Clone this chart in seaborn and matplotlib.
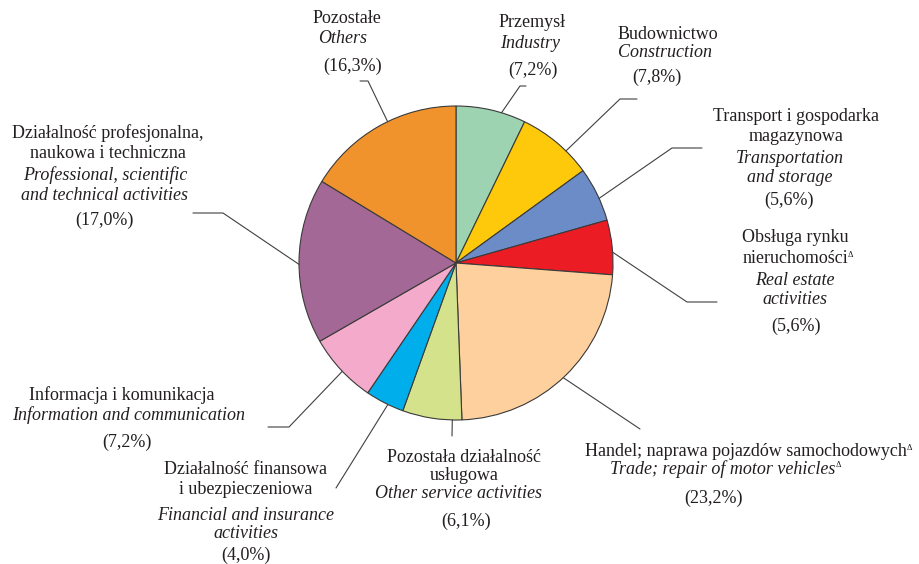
import numpy as np
import matplotlib.pyplot as plt
import seaborn as sns

sns.set_theme(style="white")
plt.rcParams['font.family'] = ['Liberation Serif', 'DejaVu Serif']

# data: shares of sections (clockwise from the top)
shares = [7.2, 7.8, 5.6, 5.6, 23.2, 6.1, 4.0, 7.2, 17.0, 16.3]
names_pl = [["Przemysł"],
            ["Budownictwo"],
            ["Transport i gospodarka", "magazynowa"],
            ["Obsługa rynku", "nieruchomościΔ"],
            ["Handel; naprawa pojazdów samochodowychΔ"],
            ["Pozostała działalność", "usługowa"],
            ["Działalność finansowa", "i ubezpieczeniowa"],
            ["Informacja i komunikacja"],
            ["Działalność profesjonalna,", "naukowa i techniczna"],
            ["Pozostałe"]]
names_en = [["Industry"],
            ["Construction"],
            ["Transportation", "and storage"],
            ["Real estate", "activities"],
            ["Trade; repair of motor vehiclesΔ"],
            ["Other service activities"],
            ["Financial and insurance", "activities"],
            ["Information and communication"],
            ["Professional, scientific", "and technical activities"],
            ["Others"]]
colors = ['#9dd3b0', '#fdc90a', '#6b8cc6', '#ec1c24', '#fdd09d',
          '#d3e28b', '#00aeeb', '#f4aacb', '#a36896', '#f1932c']

# layout (pixel coordinates, y from the top)
H = 564
cx, cy, R = 456, 263, 157
# x of polish / english / pct, y of each line
text_x = [(532, 530, 533), (668, 665, 657), (796, 790, 789), (795, 795, 796),
          (746, 723, 714), (464, 459, 466), (246, 246, 246), (122, 129, 127),
          (108, 105, 104), (347, 343, 353)]
text_y = [[22, 43, 70], [34, 52, 77], [116, 136, 158, 177, 200],
          [237, 258, 280, 299, 326], [451, 469, 498], [457, 476, 494, 521],
          [470, 490, 515, 534, 555], [395, 415, 442],
          [133, 153, 175, 195, 220], [18, 38, 66]]
# leader: anchor position inside wedge, elbow, end
anchor_frac = [0.65, 0.66, 0.58, 0.59, 0.51, 0.16, 0.41, 0.47, 0.48, 0.56]
elbows = [((520, 86), (526, 86)), ((620, 99), (637, 99)),
          ((672, 148), (702, 148)), ((687, 302), (717, 302)),
          ((640, 429), (640, 429)), ((452, 436), (452, 436)),
          ((336, 488), (336, 488)), ((289, 427), (268, 427)),
          ((223, 213), (193, 213)), ((368, 81), (360, 81))]

fig = plt.figure(figsize=(9.2, 5.64), dpi=100)
ax = fig.add_axes([0, 0, 1, 1])
ax.pie(shares, colors=colors, startangle=90, counterclock=False,
       center=(cx, H - cy), radius=R,
       wedgeprops=dict(edgecolor='#3a3a3a', linewidth=0.8))
ax.set_xlim(0, 920)
ax.set_ylim(0, H)
ax.set_aspect('equal')
ax.axis('off')

fs = 13
txt_col = '#231f20'
line_col = '#404040'


def put(x, y, s, **kw):
    # footnote mark drawn as a small superscript after the text
    mark = s.endswith('Δ')
    if mark:
        s = s[:-1]
    t = ax.text(x, y, s, ha='center', va='center', fontsize=fs,
                color=txt_col, **kw)
    if mark:
        ax.annotate('Δ', xy=(1.0, 0.92), xycoords=t, fontsize=6,
                    ha='left', va='top', color=txt_col)


start = 0
for i, v in enumerate(shares):
    a = np.radians(360 * (start + anchor_frac[i] * v) / 100)
    start += v
    px = cx + R * np.sin(a)
    py = cy - R * np.cos(a)
    (ex, ey), (fx, fy) = elbows[i]
    ax.plot([px, ex, fx], [H - py, H - ey, H - fy], color=line_col, lw=0.8)

    xp, xe, xc = text_x[i]
    ys = text_y[i]
    k = 0
    for s in names_pl[i]:
        put(xp, H - ys[k], s)
        k += 1
    for s in names_en[i]:
        put(xe, H - ys[k], s, style='italic')
        k += 1
    pct = f"({v:.1f}%)".replace('.', ',')
    put(xc, H - ys[k], pct)

fig.savefig("out.png", dpi=100)
